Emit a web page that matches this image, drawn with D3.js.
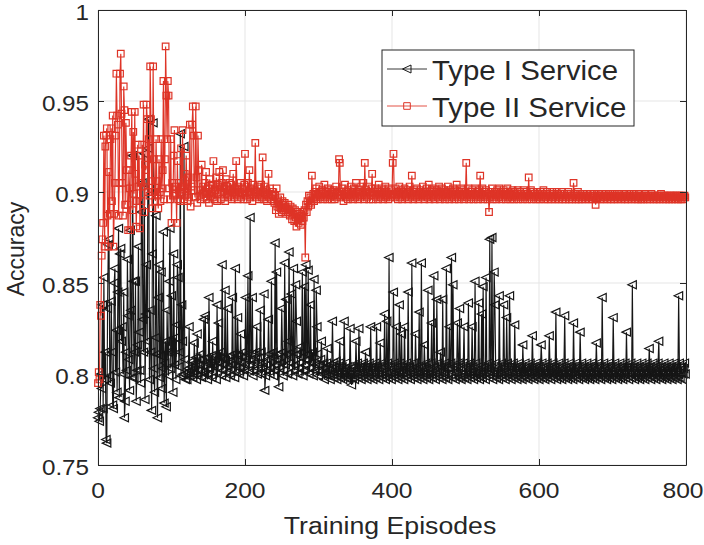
<!DOCTYPE html>
<html>
<head>
<meta charset="utf-8">
<script src="https://cdn.jsdelivr.net/npm/d3@7"></script>
<style>
  body { margin: 0; background: #fff; }
  text { font-family: "Liberation Sans", Arial, sans-serif; fill: #262626; }
</style>
</head>
<body>
<svg width="704" height="545"></svg>
<script>
// one value per training episode, accuracy in thousandths
const episodes = d3.range(0, 800);

const typeOne = [
  776, 779, 774, 781, 800, 792, 838, 781, 853, 797, 812, 764, 762, 836, 871, 874, 799, 795, 840, 812,
  783, 781, 850, 858, 801, 824, 790, 845, 880, 787, 866, 869, 818, 826, 800, 845, 776, 785, 812, 802,
  863, 832, 808, 791, 879, 835, 798, 920, 851, 798, 812, 851, 785, 802, 816, 870, 823, 802, 795, 889,
  905, 830, 812, 921, 786, 833, 860, 818, 924, 940, 797, 835, 812, 780, 866, 938, 803, 790, 820, 887,
  811, 776, 842, 860, 798, 810, 856, 792, 803, 878, 784, 806, 818, 782, 835, 812, 799, 851, 880, 803,
  843, 812, 790, 866, 805, 820, 797, 827, 860, 853, 804, 812, 932, 799, 838, 818, 800, 925, 808, 797,
  799, 797, 801, 803, 826, 799, 802, 804, 807, 798, 800, 817, 806, 809, 797, 822, 799, 802, 805, 808,
  811, 798, 801, 804, 830, 800, 832, 806, 809, 797, 800, 842, 803, 806, 810, 798, 818, 801, 804, 807,
  810, 797, 838, 803, 828, 806, 809, 812, 799, 860, 802, 805, 808, 846, 798, 801, 836, 804, 807, 810,
  799, 802, 805, 842, 808, 811, 798, 858, 801, 804, 831, 810, 800, 803, 822, 806, 809, 812, 799, 802,
  805, 842, 808, 811, 854, 802, 805, 886, 808, 811, 842, 799, 802, 806, 809, 812, 826, 800, 803, 806,
  809, 835, 812, 800, 803, 806, 844, 791, 799, 802, 805, 808, 830, 811, 800, 803, 851, 809, 812, 799,
  802, 872, 805, 856, 808, 811, 793, 803, 806, 809, 836, 812, 799, 802, 861, 805, 841, 811, 800, 818,
  867, 806, 809, 844, 812, 799, 858, 802, 805, 849, 829, 811, 800, 803, 806, 815, 809, 812, 856, 799,
  802, 848, 805, 860, 808, 811, 857, 800, 803, 838, 806, 809, 812, 799, 852, 802, 805, 846, 826, 811,
  799, 802, 805, 808, 818, 800, 803, 806, 797, 800, 803, 806, 814, 799, 802, 805, 797, 800, 803, 829,
  806, 798, 801, 804, 807, 797, 800, 803, 806, 818, 798, 801, 804, 797, 800, 829, 803, 806, 798, 801,
  804, 797, 800, 825, 803, 794, 798, 801, 804, 797, 800, 818, 803, 806, 798, 825, 801, 804, 797, 800,
  803, 806, 798, 801, 812, 804, 797, 800, 803, 806, 798, 826, 801, 804, 797, 800, 803, 806, 798, 826,
  801, 804, 797, 800, 817, 803, 806, 798, 801, 804, 833, 797, 800, 829, 806, 798, 864, 801, 804, 797,
  800, 803, 845, 806, 798, 801, 826, 804, 797, 800, 838, 806, 798, 822, 801, 804, 797, 826, 800, 803,
  806, 798, 845, 801, 804, 797, 800, 861, 803, 806, 798, 801, 822, 804, 797, 800, 803, 834, 798, 801,
  861, 804, 797, 800, 816, 803, 806, 798, 801, 846, 797, 800, 803, 806, 828, 798, 801, 854, 804, 797,
  800, 841, 803, 806, 798, 801, 812, 804, 797, 841, 800, 803, 806, 798, 858, 804, 797, 800, 826, 803,
  806, 864, 798, 849, 801, 804, 797, 800, 803, 828, 806, 798, 836, 804, 797, 800, 803, 806, 826, 798,
  801, 804, 797, 800, 839, 803, 806, 798, 801, 826, 804, 797, 800, 851, 806, 798, 801, 804, 839, 797,
  800, 803, 833, 798, 848, 801, 804, 797, 853, 800, 803, 806, 798, 874, 801, 804, 875, 797, 800, 856,
  838, 806, 798, 801, 804, 797, 843, 800, 803, 806, 798, 801, 838, 804, 797, 800, 831, 806, 798, 801,
  843, 804, 797, 800, 803, 806, 798, 827, 801, 804, 797, 800, 803, 806, 798, 801, 804, 797, 816, 800,
  803, 806, 798, 801, 804, 797, 800, 803, 806, 798, 801, 821, 804, 797, 800, 803, 806, 798, 801, 804,
  797, 800, 803, 816, 806, 798, 801, 804, 797, 800, 803, 806, 798, 801, 821, 804, 797, 800, 803, 806,
  798, 801, 804, 834, 797, 800, 803, 806, 798, 801, 804, 797, 800, 803, 806, 832, 798, 801, 804, 797,
  800, 803, 806, 798, 801, 804, 797, 828, 800, 803, 806, 798, 801, 804, 797, 800, 823, 803, 806, 798,
  801, 804, 797, 800, 803, 806, 798, 801, 804, 797, 800, 803, 806, 798, 801, 804, 797, 800, 817, 803,
  806, 798, 801, 804, 797, 800, 842, 803, 806, 798, 801, 804, 797, 800, 803, 806, 798, 801, 804, 797,
  800, 831, 803, 806, 798, 801, 804, 797, 800, 803, 806, 798, 801, 804, 797, 800, 803, 806, 798, 823,
  801, 804, 797, 800, 803, 806, 798, 849, 801, 804, 797, 800, 803, 806, 798, 801, 804, 797, 800, 803,
  806, 798, 801, 804, 797, 800, 803, 806, 798, 801, 814, 804, 797, 800, 803, 806, 798, 801, 804, 797,
  800, 803, 806, 818, 798, 801, 804, 797, 800, 803, 806, 798, 801, 804, 797, 800, 803, 806, 798, 801,
  804, 797, 800, 803, 806, 798, 801, 804, 797, 800, 843, 806, 798, 801, 804, 797, 800, 803, 806, 800
];

const typeTwo = [
  795, 801, 797, 838, 832, 865, 874, 883, 931, 870, 925, 931, 935, 887, 870, 911, 888, 929, 935, 895,
  942, 870, 888, 905, 931, 965, 942, 937, 887, 905, 965, 976, 943, 905, 887, 958, 945, 893, 938, 912,
  893, 879, 912, 902, 879, 920, 944, 890, 933, 899, 944, 910, 881, 895, 926, 903, 920, 880, 905, 895,
  926, 903, 948, 889, 915, 912, 948, 940, 900, 929, 898, 969, 940, 906, 891, 969, 918, 900, 895, 929,
  906, 898, 891, 918, 900, 895, 929, 902, 912, 961, 896, 918, 980, 953, 929, 961, 953, 902, 896, 929,
  883, 905, 898, 920, 934, 899, 903, 883, 917, 896, 905, 900, 895, 924, 899, 934, 903, 896, 910, 898,
  920, 902, 895, 908, 897, 937, 892, 903, 937, 947, 931, 901, 897, 947, 908, 894, 931, 912, 898, 901,
  896, 915, 899, 903, 897, 905, 900, 911, 896, 899, 902, 894, 907, 898, 900, 904, 897, 917, 899, 896,
  901, 908, 895, 904, 899, 911, 903, 896, 905, 900, 912, 897, 902, 895, 907, 899, 903, 897, 901, 905,
  898, 904, 896, 900, 910, 897, 902, 899, 917, 901, 896, 903, 898, 900, 905, 897, 902, 899, 896, 904,
  921, 898, 903, 896, 905, 900, 912, 897, 902, 899, 895, 904, 898, 901, 927, 900, 897, 903, 899, 896,
  902, 898, 904, 897, 919, 900, 896, 903, 899, 901, 895, 898, 910, 897, 902, 899, 896, 900, 898, 895,
  894, 898, 890, 902, 892, 896, 888, 893, 897, 891, 889, 895, 893, 890, 894, 892, 888, 891, 889, 893,
  890, 887, 892, 889, 885, 891, 888, 884, 890, 886, 881, 889, 885, 883, 888, 886, 882, 887, 884, 889,
  886, 890, 864, 893, 889, 895, 892, 898, 894, 897, 893, 909, 896, 899, 895, 900, 897, 902, 898, 896,
  899, 903, 897, 900, 898, 901, 896, 899, 904, 897, 900, 898, 896, 902, 899, 897, 901, 898, 896, 900,
  898, 901, 896, 899, 903, 897, 900, 898, 918, 916, 897, 900, 898, 902, 895, 899, 904, 897, 900, 898,
  896, 901, 899, 897, 903, 898, 900, 896, 902, 899, 897, 905, 898, 900, 896, 901, 899, 897, 903, 898,
  900, 905, 896, 916, 898, 901, 897, 899, 903, 896, 900, 898, 902, 910, 896, 900, 898, 902, 897, 899,
  901, 896, 904, 898, 900, 897, 902, 899, 896, 901, 898, 903, 897, 900, 898, 896, 902, 899, 897, 901,
  898, 916, 921, 899, 897, 902, 898, 900, 896, 899, 903, 897, 901, 898, 896, 900, 899, 902, 897, 899,
  898, 901, 896, 900, 903, 897, 899, 909, 898, 896, 901, 898, 900, 897, 902, 899, 896, 900, 898, 901,
  897, 899, 903, 898, 896, 900, 898, 902, 897, 899, 904, 896, 900, 898, 901, 897, 899, 902, 896, 900,
  898, 901, 897, 899, 903, 896, 900, 898, 902, 897, 899, 901, 896, 898, 900, 897, 903, 899, 896, 901,
  898, 900, 897, 902, 899, 896, 901, 898, 904, 897, 899, 896, 900, 898, 902, 897, 899, 901, 896, 898,
  900, 916, 897, 899, 902, 896, 898, 900, 897, 901, 899, 896, 898, 902, 897, 899, 900, 896, 898, 901,
  909, 897, 899, 902, 896, 898, 900, 897, 901, 898, 896, 899, 889, 897, 900, 898, 902, 896, 899, 897,
  900, 898, 896, 901, 899, 897, 902, 898, 900, 896, 899, 897, 901, 898, 900, 896, 899, 902, 897, 898,
  900, 896, 899, 897, 901, 898, 896, 900, 898, 897, 899, 901, 896, 898, 900, 897, 899, 898, 896, 901,
  897, 899, 898, 900, 896, 898, 908, 897, 899, 901, 896, 898, 900, 897, 899, 898, 896, 900, 897, 899,
  898, 896, 900, 897, 899, 898, 901, 896, 898, 897, 899, 900, 896, 898, 897, 899, 898, 896, 900, 897,
  899, 898, 896, 897, 900, 898, 899, 896, 897, 899, 898, 900, 896, 897, 899, 898, 896, 897, 899, 898,
  900, 896, 897, 899, 898, 896, 897, 905, 898, 899, 896, 897, 898, 900, 896, 897, 899, 898, 896, 897,
  899, 898, 897, 896, 898, 899, 897, 898, 896, 897, 899, 898, 897, 896, 898, 899, 897, 893, 896, 898,
  897, 899, 898, 896, 897, 898, 899, 897, 896, 898, 897, 899, 898, 896, 897, 898, 897, 899, 896, 898,
  897, 898, 896, 899, 897, 898, 897, 896, 898, 899, 897, 898, 896, 897, 898, 897, 899, 896, 898, 897,
  898, 896, 897, 899, 898, 897, 896, 898, 897, 899, 898, 896, 897, 898, 897, 896, 899, 898, 897, 896,
  898, 897, 896, 898, 899, 897, 898, 896, 897, 898, 897, 896, 898, 899, 897, 898, 896, 897, 898, 897,
  896, 898, 897, 898, 896, 897, 899, 898, 897, 896, 898, 897, 898, 896, 897, 898, 897, 896, 898, 897,
  898, 896, 897, 898, 897, 896, 898, 897, 898, 896, 897, 898, 897, 896, 898, 897, 896, 897, 898, 897
];

const xTicks = [0, 200, 400, 600, 800];
const yTicks = [0.75, 0.8, 0.85, 0.9, 0.95, 1];
const yTickLabels = ["0.75", "0.8", "0.85", "0.9", "0.95", "1"];
const seriesNames = ["Type I Service", "Type II Service"];

const red = "#de3427";
const dark = "#161616";

const svg = d3.select("svg");
const plotL = 98, plotR = 686, plotT = 10, plotB = 465;

const x = d3.scaleLinear().domain([0, 800]).range([plotL, plotR]);
const y = d3.scaleLinear().domain([0.75, 1]).range([plotB, plotT]);

// grid
svg.append("g")
  .selectAll("line")
  .data(xTicks)
  .join("line")
  .attr("x1", d => x(d)).attr("x2", d => x(d))
  .attr("y1", plotT).attr("y2", plotB)
  .attr("stroke", "#e5e5e5");

svg.append("g")
  .selectAll("line")
  .data(yTicks)
  .join("line")
  .attr("x1", plotL).attr("x2", plotR)
  .attr("y1", d => y(d)).attr("y2", d => y(d))
  .attr("stroke", "#e5e5e5");

const series = [
  { name: seriesNames[0], values: typeOne, color: dark, marker: "M-4.5,0L4,-4L4,4Z" },
  { name: seriesNames[1], values: typeTwo, color: red, marker: "M-3.3,-3.3H3.3V3.3H-3.3Z" }
];

const line = d3.line()
  .x((d, i) => x(episodes[i]))
  .y(d => y(d / 1000));

series.forEach(s => {
  const g = svg.append("g");
  g.append("path")
    .attr("d", line(s.values))
    .attr("fill", "none")
    .attr("stroke", s.color)
    .attr("stroke-width", 1.15);

  g.selectAll("path.m")
    .data(s.values)
    .join("path")
    .attr("class", "m")
    .attr("d", s.marker)
    .attr("transform", (d, i) => `translate(${x(episodes[i])},${y(d / 1000)})`)
    .attr("fill", "none")
    .attr("stroke", s.color)
    .attr("stroke-width", 1.2);
});

// axes box with inward ticks
const axisColor = "#262626";
const xAxisB = d3.axisBottom(x).tickValues(xTicks).tickSizeInner(-6).tickSizeOuter(0).tickFormat("");
const xAxisT = d3.axisTop(x).tickValues(xTicks).tickSizeInner(-6).tickSizeOuter(0).tickFormat("");
const yAxisL = d3.axisLeft(y).tickValues(yTicks).tickSizeInner(-6).tickSizeOuter(0).tickFormat("");
const yAxisR = d3.axisRight(y).tickValues(yTicks).tickSizeInner(-6).tickSizeOuter(0).tickFormat("");

[[xAxisB, `translate(0,${plotB})`], [xAxisT, `translate(0,${plotT})`],
 [yAxisL, `translate(${plotL},0)`], [yAxisR, `translate(${plotR},0)`]].forEach(([ax, tr]) => {
  const g = svg.append("g").attr("transform", tr).call(ax);
  g.selectAll("path, line").attr("stroke", axisColor);
});

// tick labels (the figure is slightly stretched horizontally)
svg.append("g")
  .selectAll("text")
  .data(xTicks)
  .join("text")
  .attr("transform", d => `translate(${Math.min(x(d), 683)},498) scale(1.12,1)`)
  .attr("text-anchor", "middle")
  .attr("font-size", 22)
  .text(d => d);

svg.append("g")
  .selectAll("text")
  .data(yTicks)
  .join("text")
  .attr("transform", d => `translate(89,${y(d) + 9.5}) scale(1.1,1)`)
  .attr("text-anchor", "end")
  .attr("font-size", 22)
  .text((d, i) => yTickLabels[i]);

svg.append("text")
  .attr("transform", "translate(390,534) scale(1.16,1)")
  .attr("text-anchor", "middle")
  .attr("font-size", 23)
  .text("Training Episodes");

svg.append("text")
  .attr("transform", "translate(24,249) rotate(-90)")
  .attr("text-anchor", "middle")
  .attr("font-size", 23)
  .text("Accuracy");

// legend
const legend = svg.append("g").attr("transform", "translate(382,50)");
legend.append("rect")
  .attr("width", 252).attr("height", 76)
  .attr("fill", "#fff").attr("stroke", axisColor);

const rows = legend.selectAll("g.row")
  .data(series)
  .join("g")
  .attr("class", "row")
  .attr("transform", (d, i) => `translate(0,${19 + i * 37})`);

rows.append("line")
  .attr("x1", 5).attr("x2", 45)
  .attr("stroke", d => d.color).attr("stroke-opacity", 0.85);
rows.append("path")
  .attr("d", d => d.marker)
  .attr("transform", "translate(25,0)")
  .attr("fill", "none")
  .attr("stroke", d => d.color);
rows.append("text")
  .attr("transform", "translate(50,11) scale(1.05,1)")
  .attr("font-size", 28)
  .text(d => d.name);
</script>
</body>
</html>
